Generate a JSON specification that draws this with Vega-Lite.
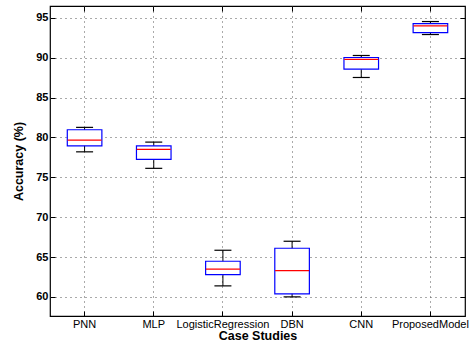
{
  "$schema": "https://vega.github.io/schema/vega-lite/v6.json",
  "width": 415,
  "height": 310,
  "autosize": {"type": "none"},
  "padding": {"left": 50, "top": 6, "right": 8, "bottom": 32},
  "background": "white",
  "config": {
    "view": {"stroke": "black", "strokeWidth": 1.2},
    "font": "Liberation Sans",
    "axis": {
      "domain": false,
      "tickColor": "black",
      "tickSize": -5,
      "labelColor": "black",
      "titleColor": "black",
      "labelFontSize": 11,
      "titleFontSize": 12.5,
      "titleFontWeight": "bold",
      "gridColor": "#555",
      "gridDash": [1, 4],
      "gridWidth": 1
    }
  },
  "data": {
    "values": [
      {"model": "PNN", "min": 78.2, "q1": 78.96, "median": 79.67, "q3": 80.97, "max": 81.27},
      {"model": "MLP", "min": 76.13, "q1": 77.25, "median": 78.5, "q3": 78.96, "max": 79.42},
      {"model": "LogisticRegression", "min": 61.38, "q1": 62.8, "median": 63.47, "q3": 64.47, "max": 65.85},
      {"model": "DBN", "min": 60.0, "q1": 60.38, "median": 63.3, "q3": 66.1, "max": 66.98},
      {"model": "CNN", "min": 87.53, "q1": 88.57, "median": 89.79, "q3": 90.04, "max": 90.29},
      {"model": "ProposedModel", "min": 92.92, "q1": 93.17, "median": 94.0, "q3": 94.3, "max": 94.55}
    ]
  },
  "resolve": {"axis": {"x": "independent", "y": "independent"}},
  "layer": [
    {
      "mark": {"type": "rule", "color": "black", "strokeWidth": 1},
      "encoding": {
        "x": {"field": "model", "type": "nominal", "sort": null, "scale": {"paddingInner": 0, "paddingOuter": 0},
          "axis": {"orient": "bottom", "title": "Case Studies", "labelAngle": 0, "grid": true, "labelPadding": 7, "titlePadding": 0}},
        "y": {"field": "min", "type": "quantitative", "scale": {"domain": [57.6, 96.5], "nice": false, "zero": false},
          "axis": {"orient": "left", "title": "Accuracy (%)", "values": [60, 65, 70, 75, 80, 85, 90, 95], "grid": true, "labelFontWeight": "bold", "labelPadding": 7, "titlePadding": 10}},
        "y2": {"field": "max"}
      }
    },
    {
      "mark": {"type": "bar", "fill": "white", "stroke": "#0000ff", "strokeWidth": 1.2, "width": {"band": 0.5}},
      "encoding": {
        "x": {"field": "model", "type": "nominal", "sort": null,
          "axis": {"orient": "top", "title": null, "labels": false, "grid": false}},
        "y": {"field": "q1", "type": "quantitative",
          "axis": {"orient": "right", "title": null, "labels": false, "values": [60, 65, 70, 75, 80, 85, 90, 95], "grid": false}},
        "y2": {"field": "q3"}
      }
    },
    {
      "mark": {"type": "tick", "color": "black", "size": 17, "thickness": 1.2, "opacity": 1},
      "encoding": {
        "x": {"field": "model", "type": "nominal", "sort": null, "axis": null},
        "y": {"field": "min", "type": "quantitative", "axis": null}
      }
    },
    {
      "mark": {"type": "tick", "color": "black", "size": 17, "thickness": 1.2, "opacity": 1},
      "encoding": {
        "x": {"field": "model", "type": "nominal", "sort": null, "axis": null},
        "y": {"field": "max", "type": "quantitative", "axis": null}
      }
    },
    {
      "mark": {"type": "tick", "color": "#ff0000", "size": 34, "thickness": 1.2, "opacity": 1},
      "encoding": {
        "x": {"field": "model", "type": "nominal", "sort": null, "axis": null},
        "y": {"field": "median", "type": "quantitative", "axis": null}
      }
    }
  ]
}
